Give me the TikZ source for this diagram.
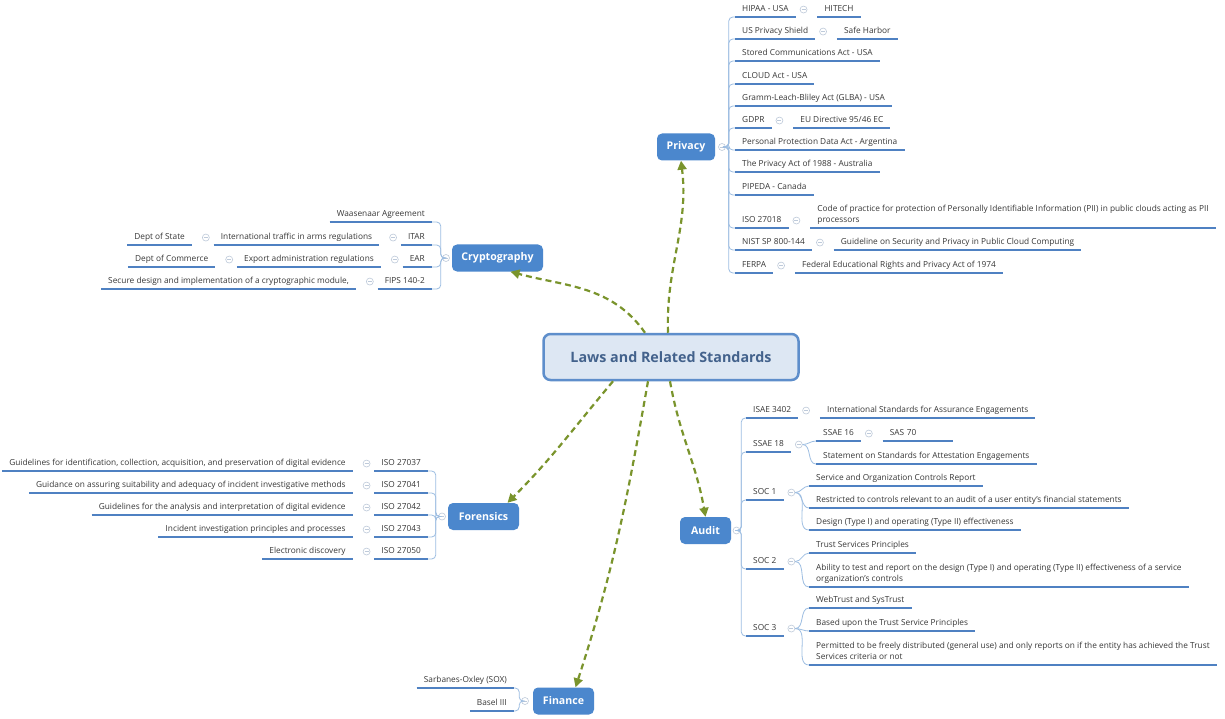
\documentclass[tikz,border=0pt]{standalone}
\usepackage{fontspec}
\setmainfont{Open Sans}
\usepackage{tikz}
\usetikzlibrary{arrows.meta, positioning}
\definecolor{branchBlue}{RGB}{75,135,205}
\definecolor{centerFill}{RGB}{221,231,243}
\definecolor{centerLine}{RGB}{94,142,203}
\definecolor{centerText}{RGB}{67,98,140}
\definecolor{arrowGreen}{RGB}{122,148,44}
\definecolor{ulineBlue}{RGB}{79,129,194}
\definecolor{spineBlue}{RGB}{158,190,226}
\definecolor{markGray}{RGB}{190,202,218}
\definecolor{leafText}{RGB}{55,55,55}
\newcommand{\leaffont}{\fontsize{8.3}{11}\selectfont}

\begin{document}
\begin{tikzpicture}[
    x=1pt, y=1pt,
    leafbase/.style={font=\leaffont, text=leafText, inner xsep=7pt, inner ysep=3.5pt, text depth=1.5pt},
    leaf/.style={leafbase, text height=6pt},
    leafml/.style={leafbase, align=left},
    branch/.style={rectangle, rounded corners=5pt, fill=branchBlue, text=white,
                   font=\fontsize{10.6}{12}\selectfont\bfseries, minimum height=27pt, inner xsep=0pt},
    root/.style={rectangle, rounded corners=7pt, draw=centerLine, line width=2.5pt, fill=centerFill,
                 text=centerText, font=\fontsize{14.3}{17}\selectfont\bfseries,
                 minimum width=255pt, minimum height=46pt},
    foldmark/.style={circle, draw=markGray, fill=white, line width=0.6pt, minimum size=7pt, inner sep=0pt,
                     path picture={\draw[markGray, line width=0.6pt]
                       ([xshift=-2pt]path picture bounding box.center) -- ([xshift=2pt]path picture bounding box.center);}},
    uline/.style={draw=ulineBlue, line width=1.5pt},
    spine/.style={draw=spineBlue, line width=0.8pt, rounded corners=4pt},
    twig/.style={draw=spineBlue, line width=0.8pt},
    arr/.style={-{Triangle[length=9pt,width=9pt]}, draw=arrowGreen, line width=2.2pt, dash pattern=on 6pt off 4pt},
  ]
    \path[use as bounding box, fill=white] (0,0) rectangle (1225,-719);

    % Centre and main branches
    \node[root] (root) at (671,-357) {Laws and Related Standards};
    \node[branch, minimum width=58pt] (privacy)   at (686,-147)     {Privacy};
    \node[branch, minimum width=91pt] (crypto)    at (497.5,-258)   {Cryptography};
    \node[branch, minimum width=71pt] (forensics) at (483.5,-516.5) {Forensics};
    \node[branch, minimum width=51pt] (audit)     at (705.5,-530.5) {Audit};
    \node[branch, minimum width=61pt] (finance)   at (563.5,-701)   {Finance};

    \draw[arr] ([xshift=-3pt]root.north)  to[out=92,in=-83]   ([xshift=-5pt]privacy.south);
    \draw[arr] ([xshift=-26pt]root.north) to[out=125,in=-15]  ([xshift=13pt]crypto.south);
    \draw[arr] ([xshift=-58pt]root.south) to[out=-130,in=45]  ([xshift=24pt]forensics.north);
    \draw[arr] ([xshift=-1pt]root.south)  to[out=-80,in=100]  (audit.north);
    \draw[arr] ([xshift=-23pt]root.south) to[out=-100,in=72]  ([xshift=12pt]finance.north);

    % Privacy
    \node[foldmark, right=3pt of privacy] (privm) {};
    \node[leaf, anchor=south west] (hipaa) at (735,-17) {HIPAA - USA};
    \node[foldmark, right=4pt of hipaa] (hipaam) {};
    \node[leaf, right=10pt of hipaam] (hitech) {HITECH};
    \node[leaf, anchor=south west] (usps) at (735,-39) {US Privacy Shield};
    \node[foldmark, right=4pt of usps] (uspsm) {};
    \node[leaf, right=10pt of uspsm] (safe) {Safe Harbor};
    \node[leaf, anchor=south west] (sca) at (735,-61) {Stored Communications Act - USA};
    \node[leaf, anchor=south west] (cloud) at (735,-84) {CLOUD Act - USA};
    \node[leaf, anchor=south west] (glba) at (735,-106) {Gramm-Leach-Bliley Act (GLBA) - USA};
    \node[leaf, anchor=south west] (gdpr) at (735,-128) {GDPR};
    \node[foldmark, right=4pt of gdpr] (gdprm) {};
    \node[leaf, right=10pt of gdprm] (eudir) {EU Directive 95/46 EC};
    \node[leaf, anchor=south west] (ppda) at (735,-150) {Personal Protection Data Act - Argentina};
    \node[leaf, anchor=south west] (pa88) at (735,-172) {The Privacy Act of 1988 - Australia};
    \node[leaf, anchor=south west] (pipeda) at (735,-195) {PIPEDA - Canada};
    \node[leaf, anchor=south west] (iso18) at (735,-228) {ISO 27018};
    \node[foldmark, right=4pt of iso18] (iso18m) {};
    \node[leafml, anchor=south west, xshift=10pt] (pii) at (iso18m.east |- iso18.south)
      {Code of practice for protection of Personally Identifiable Information (PII) in public clouds acting as PII\\processors};
    \node[leaf, anchor=south west] (nist) at (735,-250) {NIST SP 800-144};
    \node[foldmark, right=4pt of nist] (nistm) {};
    \node[leaf, right=10pt of nistm] (cloudg) {Guideline on Security and Privacy in Public Cloud Computing};
    \node[leaf, anchor=south west] (ferpa) at (735,-273) {FERPA};
    \node[foldmark, right=4pt of ferpa] (ferpam) {};
    \node[leaf, right=10pt of ferpam] (ferpal) {Federal Educational Rights and Privacy Act of 1974};

    % Cryptography
    \node[foldmark, left=2pt of crypto] (cryptom) {};
    \node[leaf, anchor=south east] (wass) at (432,-222) {Waasenaar Agreement};
    \node[leaf, anchor=south east] (itar) at (432,-245) {ITAR};
    \node[foldmark, left=4pt of itar] (itarm) {};
    \node[leaf, left=10pt of itarm] (itarl) {International traffic in arms regulations};
    \node[foldmark, left=4pt of itarl] (itarlm) {};
    \node[leaf, left=10pt of itarlm] (state) {Dept of State};
    \node[leaf, anchor=south east] (ear) at (432,-267) {EAR};
    \node[foldmark, left=4pt of ear] (earm) {};
    \node[leaf, left=10pt of earm] (earl) {Export administration regulations};
    \node[foldmark, left=4pt of earl] (earlm) {};
    \node[leaf, left=10pt of earlm] (commerce) {Dept of Commerce};
    \node[leaf, anchor=south east] (fips) at (432,-289) {FIPS 140-2};
    \node[foldmark, left=4pt of fips] (fipsm) {};
    \node[leaf, left=10pt of fipsm] (fipsl) {Secure design and implementation of a cryptographic module,};

    % Forensics
    \node[foldmark, left=2pt of forensics] (form) {};
    \node[leaf, anchor=south east] (f37) at (428,-471) {ISO 27037};
    \node[foldmark, left=4pt of f37] (f37m) {};
    \node[leaf, left=10pt of f37m] (f37l) {Guidelines for identification, collection, acquisition, and preservation of digital evidence};
    \node[leaf, anchor=south east] (f41) at (428,-493) {ISO 27041};
    \node[foldmark, left=4pt of f41] (f41m) {};
    \node[leaf, left=10pt of f41m] (f41l) {Guidance on assuring suitability and adequacy of incident investigative methods};
    \node[leaf, anchor=south east] (f42) at (428,-515) {ISO 27042};
    \node[foldmark, left=4pt of f42] (f42m) {};
    \node[leaf, left=10pt of f42m] (f42l) {Guidelines for the analysis and interpretation of digital evidence};
    \node[leaf, anchor=south east] (f43) at (428,-537) {ISO 27043};
    \node[foldmark, left=4pt of f43] (f43m) {};
    \node[leaf, left=10pt of f43m] (f43l) {Incident investigation principles and processes};
    \node[leaf, anchor=south east] (f50) at (428,-559) {ISO 27050};
    \node[foldmark, left=4pt of f50] (f50m) {};
    \node[leaf, left=10pt of f50m] (f50l) {Electronic discovery};

    % Audit
    \node[foldmark, right=1.5pt of audit] (auditm) {};
    \node[leaf, anchor=south west] (isae) at (746,-418) {ISAE 3402};
    \node[foldmark, right=4pt of isae] (isaem) {};
    \node[leaf, right=10pt of isaem] (isael) {International Standards for Assurance Engagements};
    \node[leaf, anchor=south west] (ssae18) at (746,-452) {SSAE 18};
    \node[foldmark, right=4pt of ssae18] (ssae18m) {};
    \node[leaf, anchor=south west] (ssae16) at (816,-441) {SSAE 16};
    \node[foldmark, right=4pt of ssae16] (ssae16m) {};
    \node[leaf, right=10pt of ssae16m, text width=56pt] (sas70) {SAS 70};
    \node[leaf, anchor=south west] (stmt) at (816,-464) {Statement on Standards for Attestation Engagements};
    \node[leaf, anchor=south west] (soc1) at (746,-500) {SOC 1};
    \node[foldmark, right=4pt of soc1] (soc1m) {};
    \node[leaf, anchor=south west] (socr) at (809,-486) {Service and Organization Controls Report};
    \node[leaf, anchor=south west] (restr) at (809,-508) {Restricted to controls relevant to an audit of a user entity's financial statements};
    \node[leaf, anchor=south west] (design) at (809,-530) {Design (Type I) and operating (Type II) effectiveness};
    \node[leaf, anchor=south west] (soc2) at (746,-569) {SOC 2};
    \node[foldmark, right=4pt of soc2] (soc2m) {};
    \node[leaf, anchor=south west] (tsp) at (809,-553) {Trust Services Principles};
    \node[leafml, anchor=south west] (ability) at (809,-587)
      {Ability to test and report on the design (Type I) and operating (Type II) effectiveness of a service\\organization's controls};
    \node[leaf, anchor=south west] (soc3) at (746,-636) {SOC 3};
    \node[foldmark, right=4pt of soc3] (soc3m) {};
    \node[leaf, anchor=south west] (webtrust) at (809,-608) {WebTrust and SysTrust};
    \node[leaf, anchor=south west] (based) at (809,-631) {Based upon the Trust Service Principles};
    \node[leafml, anchor=south west] (permit) at (809,-665)
      {Permitted to be freely distributed (general use) and only reports on if the entity has achieved the Trust\\Services criteria or not};

    % Finance
    \node[foldmark, left=4pt of finance] (finm) {};
    \node[leaf, anchor=south east] (sox) at (514,-688) {Sarbanes-Oxley (SOX)};
    \node[leaf, anchor=south east] (basel) at (514,-711) {Basel III};

    % Connectors
    \foreach \n in {hipaa,usps,sca,cloud,glba,gdpr,ppda,pa88,pipeda,iso18,nist,ferpa}
      \draw[spine] (privm.east) -- ++(3,0) |- (\n.south west);
    \foreach \n in {wass,itar,ear,fips}
      \draw[spine] (cryptom.west) -- ++(-1.5,0) |- (\n.south east);
    \foreach \n in {f37,f41,f42,f43,f50}
      \draw[spine] (form.west) -- ++(-2.5,0) |- (\n.south east);
    \foreach \n in {isae,ssae18,soc1,soc2,soc3}
      \draw[spine] (auditm.east) -- ++(1,0) |- (\n.south west);
    \foreach \n in {sox,basel}
      \draw[spine] (finm.west) -- ++(-2,0) |- (\n.south east);
    \foreach \n in {ssae16,stmt}
      \draw[twig] (ssae18m.east) to[out=0,in=180] (\n.south west);
    \foreach \n in {socr,restr,design}
      \draw[twig] (soc1m.east) to[out=0,in=180] (\n.south west);
    \foreach \n in {tsp,ability}
      \draw[twig] (soc2m.east) to[out=0,in=180] (\n.south west);
    \foreach \n in {webtrust,based,permit}
      \draw[twig] (soc3m.east) to[out=0,in=180] (\n.south west);

    % Underlines
    \foreach \n in {hipaa,hitech,usps,safe,sca,cloud,glba,gdpr,eudir,ppda,pa88,pipeda,iso18,pii,nist,cloudg,ferpa,ferpal,
                    wass,itar,itarl,state,ear,earl,commerce,fips,fipsl,
                    f37,f37l,f41,f41l,f42,f42l,f43,f43l,f50,f50l,
                    isae,isael,ssae18,ssae16,sas70,stmt,soc1,socr,restr,design,soc2,tsp,ability,soc3,webtrust,based,permit,
                    sox,basel}
      \draw[uline] (\n.south west) -- (\n.south east);
\end{tikzpicture}
\end{document}
